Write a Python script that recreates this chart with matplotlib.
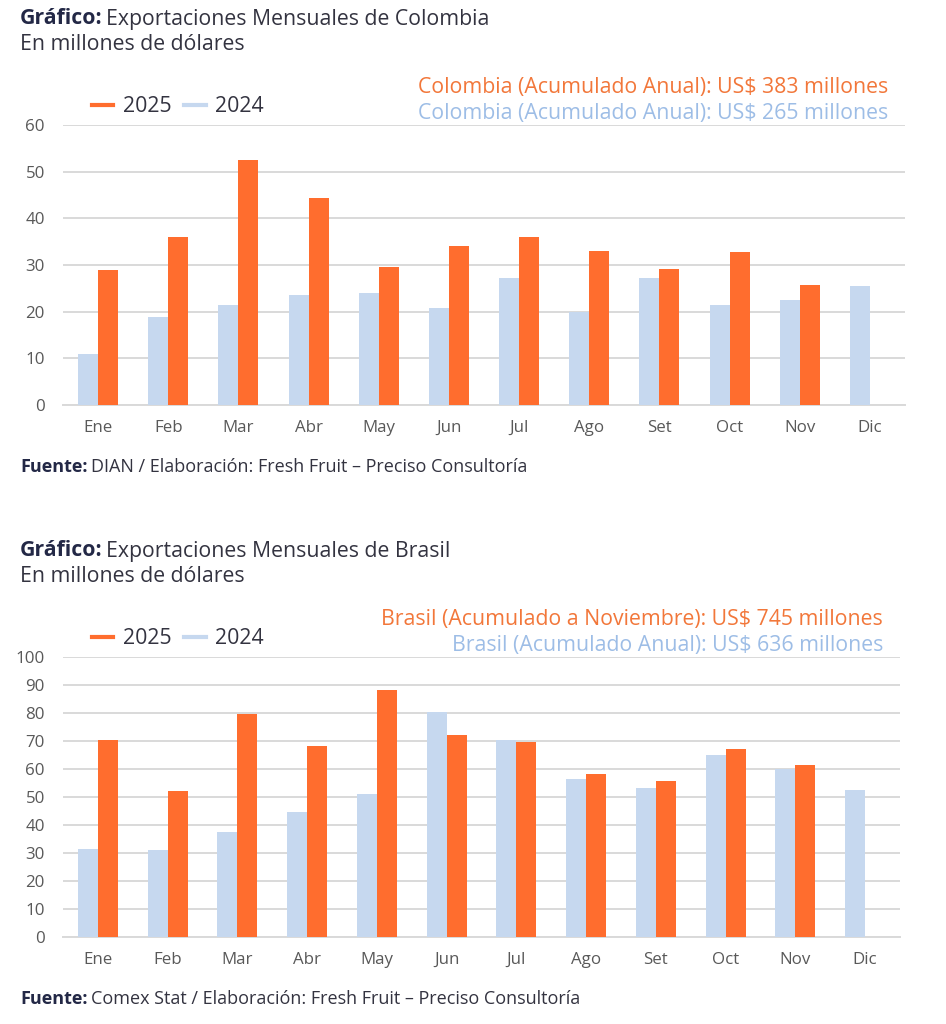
import matplotlib.pyplot as plt
from matplotlib.lines import Line2D
import numpy as np

plt.rcParams['font.family'] = ['Open Sans', 'DejaVu Sans']

# === DATA ===
months = ["Ene", "Feb", "Mar", "Abr", "May", "Jun", "Jul", "Ago", "Set", "Oct", "Nov", "Dic"]

col_2025 = [28.9, 36.1, 52.4, 44.3, 29.6, 34.1, 35.9, 33.0, 29.1, 32.7, 25.7, np.nan]
col_2024 = [10.9, 18.9, 21.4, 23.6, 24.1, 20.7, 27.3, 20.0, 27.3, 21.4, 22.6, 25.4]

bra_2025 = [70.2, 52.0, 79.8, 68.3, 88.3, 72.3, 69.8, 58.2, 55.7, 67.3, 61.5, np.nan]
bra_2024 = [31.4, 31.0, 37.5, 44.5, 51.2, 80.4, 70.5, 56.4, 53.1, 65.0, 60.0, 52.6]

col_notes = ["Colombia (Acumulado Anual): US$ 383 millones",
             "Colombia (Acumulado Anual): US$ 265 millones"]
bra_notes = ["Brasil (Acumulado a Noviembre): US$ 745 millones",
             "Brasil (Acumulado Anual): US$ 636 millones"]

# === STYLE ===
ORANGE = '#FF6D2E'
BLUE = '#C6D8EF'
NOTE_ORANGE = '#F2773A'
NOTE_BLUE = '#9DBDE6'
NAVY = '#232846'
TXT = '#333340'
GRID = '#D9D9D9'
TICK = '#595959'

BIG = 15.3   # title / legend / notes
SRC = 13.0   # source line
TK = 12.2    # tick labels

W, H = 946, 1024
fig = plt.figure(figsize=(W / 100, H / 100), dpi=100)
fig.patch.set_facecolor('white')
renderer = fig.canvas.get_renderer()


def px(x, y):
    return x / W, 1 - y / H


def bold_then_regular(x, y, bold, regular, size):
    t = fig.text(*px(x, y), bold, fontsize=size, fontweight='bold', color=NAVY, va='center')
    bb = t.get_window_extent(renderer=renderer)
    fig.text(bb.x1 / W + 3 / W, 1 - y / H, regular, fontsize=size, color=TXT, va='center')


def chart(top, right, vals25, vals24, ymax, step, notes, title, sub, source):
    # title block
    bold_then_regular(20, top - 106, "Gráfico:", title, BIG)
    fig.text(*px(20, top - 81), sub, fontsize=BIG, color=TXT, va='center')

    left, bottom = 63, top + 280
    ax = fig.add_axes([left / W, 1 - bottom / H, (right - left) / W, 280 / H])
    x = np.arange(len(months))
    w = 0.285
    ax.bar(x - w / 2, vals24, w, color=BLUE, zorder=3)
    ax.bar(x + w / 2, vals25, w, color=ORANGE, zorder=3)

    ax.set_xlim(-0.5, len(months) - 0.5)
    ax.set_ylim(0, ymax)
    ax.set_yticks(np.arange(0, ymax + 1, step))
    ax.set_xticks(x)
    ax.set_xticklabels(months)
    ax.yaxis.grid(True, color=GRID, linewidth=1.4, zorder=0)
    for s in ['top', 'right', 'left']:
        ax.spines[s].set_visible(False)
    ax.spines['bottom'].set_color(GRID)
    ax.spines['bottom'].set_linewidth(1.4)
    ax.tick_params(axis='both', length=0, labelsize=TK, colors=TICK)
    ax.tick_params(axis='y', pad=13)
    ax.tick_params(axis='x', pad=11)

    # legend: 2025 first
    handles = [Line2D([0], [0], color=ORANGE, lw=3), Line2D([0], [0], color=BLUE, lw=3)]
    leg = fig.legend(handles, ["2025", "2024"], loc='center left',
                     bbox_to_anchor=px(73, top - 18), ncol=2, frameon=False,
                     fontsize=BIG, handlelength=1.0, handletextpad=0.45, columnspacing=0.6)
    for t in leg.get_texts():
        t.set_color(TXT)

    # accumulated notes
    fig.text(*px(right - 17, top - 37), notes[0], fontsize=BIG, color=NOTE_ORANGE,
             ha='right', va='center')
    fig.text(*px(right - 17, top - 12), notes[1], fontsize=BIG, color=NOTE_BLUE,
             ha='right', va='center')

    # source
    bold_then_regular(20, bottom + 62, "Fuente:", source, SRC)
    return ax


chart(125, 905, col_2025, col_2024, 60, 10, col_notes,
      "Exportaciones Mensuales de Colombia", "En millones de dólares",
      "DIAN / Elaboración: Fresh Fruit – Preciso Consultoría")
chart(657, 900, bra_2025, bra_2024, 100, 10, bra_notes,
      "Exportaciones Mensuales de Brasil", "En millones de dólares",
      "Comex Stat / Elaboración: Fresh Fruit – Preciso Consultoría")

fig.savefig("out.png", dpi=100)
